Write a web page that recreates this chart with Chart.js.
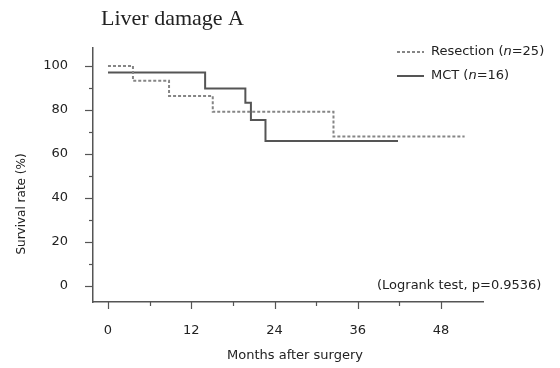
<!DOCTYPE html>
<html>
<head>
<meta charset="utf-8">
<script src="https://cdn.jsdelivr.net/npm/chart.js@4/dist/chart.umd.min.js"></script>
<style>
html,body{margin:0;padding:0;background:#fff;}
#wrap{width:560px;height:368px;}
</style>
</head>
<body>
<div id="wrap"><canvas id="c" width="560" height="368"></canvas></div>
<script>
// ---- data ----
const chartTitle = "Liver damage A";
const xTitle = "Months after surgery";
const yTitle = "Survival rate (%)";
const noteText = "(Logrank test, p=0.9536)";

const resectionLabel = "Resection (n=25)";
const resectionMonths = [0, 3.6, 8.8, 15.1, 32.5, 51.4];
const resectionSurvival = [100, 93.3, 86.4, 79.2, 67.9, 67.9];

const mctLabel = "MCT (n=16)";
const mctMonths = [0, 14.0, 19.8, 20.6, 22.7, 41.8];
const mctSurvival = [97.1, 89.8, 83.3, 75.5, 65.9, 65.9];

const xTickValues = [0, 6, 12, 18, 24, 30, 36, 42, 48];
const xLabelValues = [0, 12, 24, 36, 48];
const yTickValues = [0, 10, 20, 30, 40, 50, 60, 70, 80, 90, 100];
const yLabelValues = [0, 20, 40, 60, 80, 100];

const toPoints = (xs, ys) => xs.map((x, i) => ({x: x, y: ys[i]}));

const FONT = "'DejaVu Sans', sans-serif";
const TXT = '#222';
const AX = '#555';

const decor = {
  id: 'decor',
  afterDraw(chart) {
    const ctx = chart.ctx;
    const xs = chart.scales.x, ys = chart.scales.y;
    const ca = chart.chartArea;
    ctx.save();
    // tick marks
    ctx.strokeStyle = AX;
    ctx.lineWidth = 1.2;
    xTickValues.forEach(v => {
      const px = Math.round(xs.getPixelForValue(v)) + 0.5;
      const len = xLabelValues.includes(v) ? 7 : 4;
      ctx.beginPath(); ctx.moveTo(px, ca.bottom); ctx.lineTo(px, ca.bottom + len); ctx.stroke();
    });
    yTickValues.forEach(v => {
      const py = Math.round(ys.getPixelForValue(v)) + 0.5;
      const len = yLabelValues.includes(v) ? 8 : 4;
      ctx.beginPath(); ctx.moveTo(ca.left - len, py); ctx.lineTo(ca.left, py); ctx.stroke();
    });
    // title
    ctx.fillStyle = TXT;
    ctx.font = "22px 'Liberation Serif', serif";
    ctx.textAlign = 'left'; ctx.textBaseline = 'middle';
    ctx.fillText(chartTitle, 101, 19);
    // axis titles
    ctx.font = "13px " + FONT;
    ctx.textAlign = 'center';
    ctx.fillText(xTitle, 295, 356);
    ctx.save();
    ctx.translate(22, 204);
    ctx.rotate(-Math.PI / 2);
    ctx.font = "12px " + FONT;
    ctx.fillText(yTitle, 0, 0);
    ctx.restore();
    // note
    ctx.font = "13px " + FONT;
    ctx.textAlign = 'left';
    ctx.fillText(noteText, 377, 286);
    // legend
    const items = chart.data.datasets;
    items.forEach((ds, i) => {
      const ly = 52 + i * 24;
      ctx.strokeStyle = ds.borderColor;
      ctx.lineWidth = ds.borderWidth;
      ctx.setLineDash(ds.borderDash || []);
      ctx.beginPath(); ctx.moveTo(397, ly); ctx.lineTo(424, ly); ctx.stroke();
      ctx.setLineDash([]);
      // label with italic n
      const m = ds.label.match(/^(.*\()n(=.*)$/);
      let x = 431;
      ctx.fillStyle = TXT;
      ctx.textAlign = 'left';
      if (m) {
        ctx.font = "13px " + FONT;
        ctx.fillText(m[1], x, ly); x += ctx.measureText(m[1]).width;
        ctx.font = "italic 13px " + FONT;
        ctx.fillText('n', x, ly); x += ctx.measureText('n').width;
        ctx.font = "13px " + FONT;
        ctx.fillText(m[2], x, ly);
      } else {
        ctx.font = "13px " + FONT;
        ctx.fillText(ds.label, x, ly);
      }
    });
    ctx.restore();
  }
};

new Chart(document.getElementById('c'), {
  type: 'line',
  data: {
    datasets: [
      {
        label: resectionLabel,
        data: toPoints(resectionMonths, resectionSurvival),
        stepped: 'before',
        borderColor: '#858585',
        borderWidth: 2,
        borderDash: [3, 2],
        pointRadius: 0,
        fill: false
      },
      {
        label: mctLabel,
        data: toPoints(mctMonths, mctSurvival),
        stepped: 'before',
        borderColor: '#555555',
        borderWidth: 2,
        pointRadius: 0,
        fill: false
      }
    ]
  },
  options: {
    responsive: false,
    devicePixelRatio: 1,
    animation: false,
    layout: {padding: {left: 0, right: 77, top: 48, bottom: 0}},
    plugins: {legend: {display: false}, tooltip: {enabled: false}, title: {display: false}},
    scales: {
      x: {
        type: 'linear',
        min: -2.16, max: 54.05,
        afterFit(s) { s.height = 66; },
        afterBuildTicks(s) { s.ticks = xLabelValues.map(v => ({value: v})); },
        grid: {display: false, drawTicks: false},
        border: {display: true, color: AX, width: 1.5},
        ticks: {color: TXT, font: {family: FONT, size: 13}, padding: 21, maxRotation: 0,
                callback: v => String(v)}
      },
      y: {
        type: 'linear',
        min: -7.27, max: 108.18,
        afterFit(s) { s.width = 93; },
        afterBuildTicks(s) { s.ticks = yLabelValues.map(v => ({value: v})); },
        grid: {display: false, drawTicks: false},
        border: {display: true, color: AX, width: 1.5},
        ticks: {color: TXT, font: {family: FONT, size: 13}, padding: 25,
                callback: v => String(v)}
      }
    }
  },
  plugins: [decor]
});
</script>
</body>
</html>
